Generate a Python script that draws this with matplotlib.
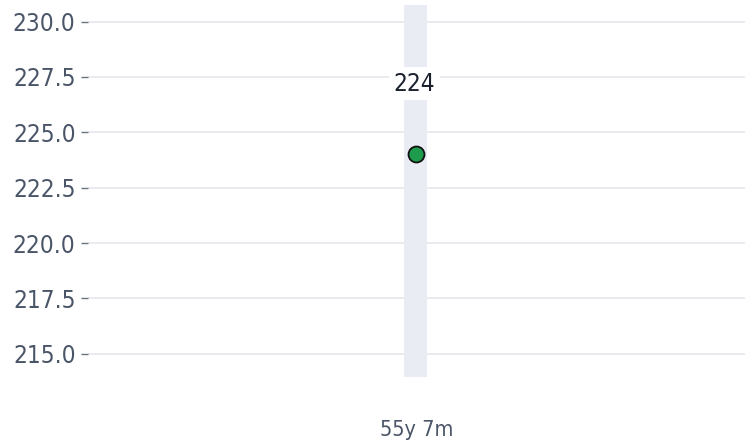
import matplotlib.pyplot as plt
from matplotlib.ticker import MultipleLocator

categories = ["55y 7m"]
values = [224]
band_low = [213.96]
band_high = [230.75]

fig = plt.figure(figsize=(7.53, 4.46), dpi=100)
ax = fig.add_axes([0.117, 0.155, 0.872, 0.834])

x = list(range(len(categories)))
for i in x:
    ax.bar(i - 0.002, band_high[i] - band_low[i], bottom=band_low[i], width=0.035,
           color="#e9ecf2", edgecolor="none", zorder=1)
ax.plot(x, values, "o", ms=11.5, mfc="#1f9b4e", mec="#111111", mew=1.3, zorder=3)
for i, v in zip(x, values):
    ax.text(i - 0.003, v + 3.2, str(v), ha="center", va="center", fontsize=17.5,
            fontstretch="condensed", color="#1a202c", zorder=4,
            bbox=dict(boxstyle="square,pad=0.2", fc="white", ec="none"))

ax.set_xlim(-0.5, 0.5)
ax.set_ylim(213.96, 230.75)
ax.yaxis.set_major_locator(MultipleLocator(2.5))
ax.yaxis.set_major_formatter(lambda v, p: f"{v:.1f}")
ax.set_xticks(x)
ax.set_xticklabels(categories)
ax.grid(axis="y", color="#e5e7eb", lw=1.2, zorder=0)
ax.set_axisbelow(True)
for s in ax.spines.values():
    s.set_visible(False)
ax.tick_params(axis="y", length=5, width=1, color="#6b7280", pad=4,
               labelsize=17.5, labelcolor="#4a5568")
ax.tick_params(axis="x", length=0, pad=31, labelsize=15.5, labelcolor="#4a5568")
for lab in ax.get_yticklabels() + ax.get_xticklabels():
    lab.set_fontstretch("condensed")

fig.savefig("out.png", dpi=100)
